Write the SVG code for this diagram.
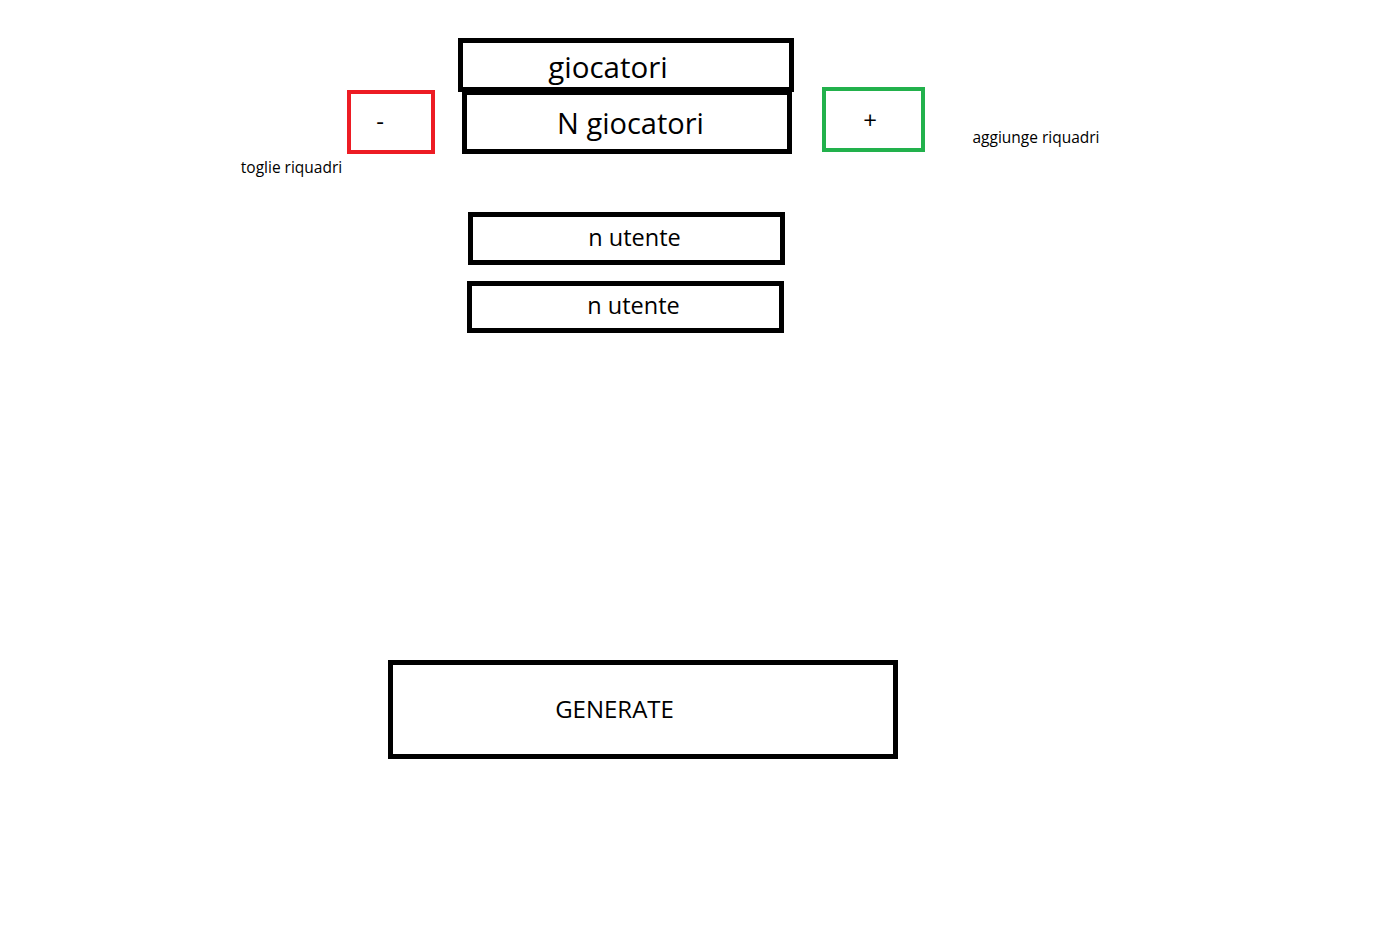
<svg xmlns="http://www.w3.org/2000/svg" width="1376" height="930" viewBox="0 0 1376 930">
<style>
.box{fill:none;stroke:#000;stroke-width:5}
.red{fill:none;stroke:#ed1c24;stroke-width:4}
.green{fill:none;stroke:#22b14c;stroke-width:4}
text{font-family:"Open Sans","Noto Sans",sans-serif;fill:#000;text-anchor:middle}
.big{font-size:29px}
.mid{font-size:23.5px}
.gen{font-size:24px}
.pm{font-size:24px}
.small{font-size:15.5px}
</style>
<rect width="1376" height="930" fill="#fff"/>
<g id="giocatori">
<rect class="box" x="460.5" y="40.5" width="331" height="49"/>
<text class="big" x="608" y="78" style="font-size:29.5px">giocatori</text>
</g>
<g id="n-giocatori">
<rect class="box" x="464.5" y="92.5" width="325" height="59"/>
<text class="big" x="630.5" y="134">N giocatori</text>
</g>
<g id="minus">
<rect class="red" x="349" y="92" width="84" height="60"/>
<text class="pm" x="380" y="130">-</text>
</g>
<g id="plus">
<rect class="green" x="824" y="89" width="99" height="61"/>
<text class="pm" x="870" y="129">+</text>
</g>
<g id="toglie">
<text class="small" x="291.5" y="173">toglie riquadri</text>
</g>
<g id="aggiunge">
<text class="small" x="1036" y="143">aggiunge riquadri</text>
</g>
<g id="utente1">
<rect class="box" x="470.5" y="214.5" width="312" height="48"/>
<text class="mid" x="634.5" y="246">n utente</text>
</g>
<g id="utente2">
<rect class="box" x="469.5" y="283.5" width="312" height="47"/>
<text class="mid" x="633.5" y="314">n utente</text>
</g>
<g id="generate">
<rect class="box" x="390.5" y="662.5" width="505" height="94"/>
<text class="gen" x="614.5" y="718">GENERATE</text>
</g>
<g id="connectors"></g>
</svg>
